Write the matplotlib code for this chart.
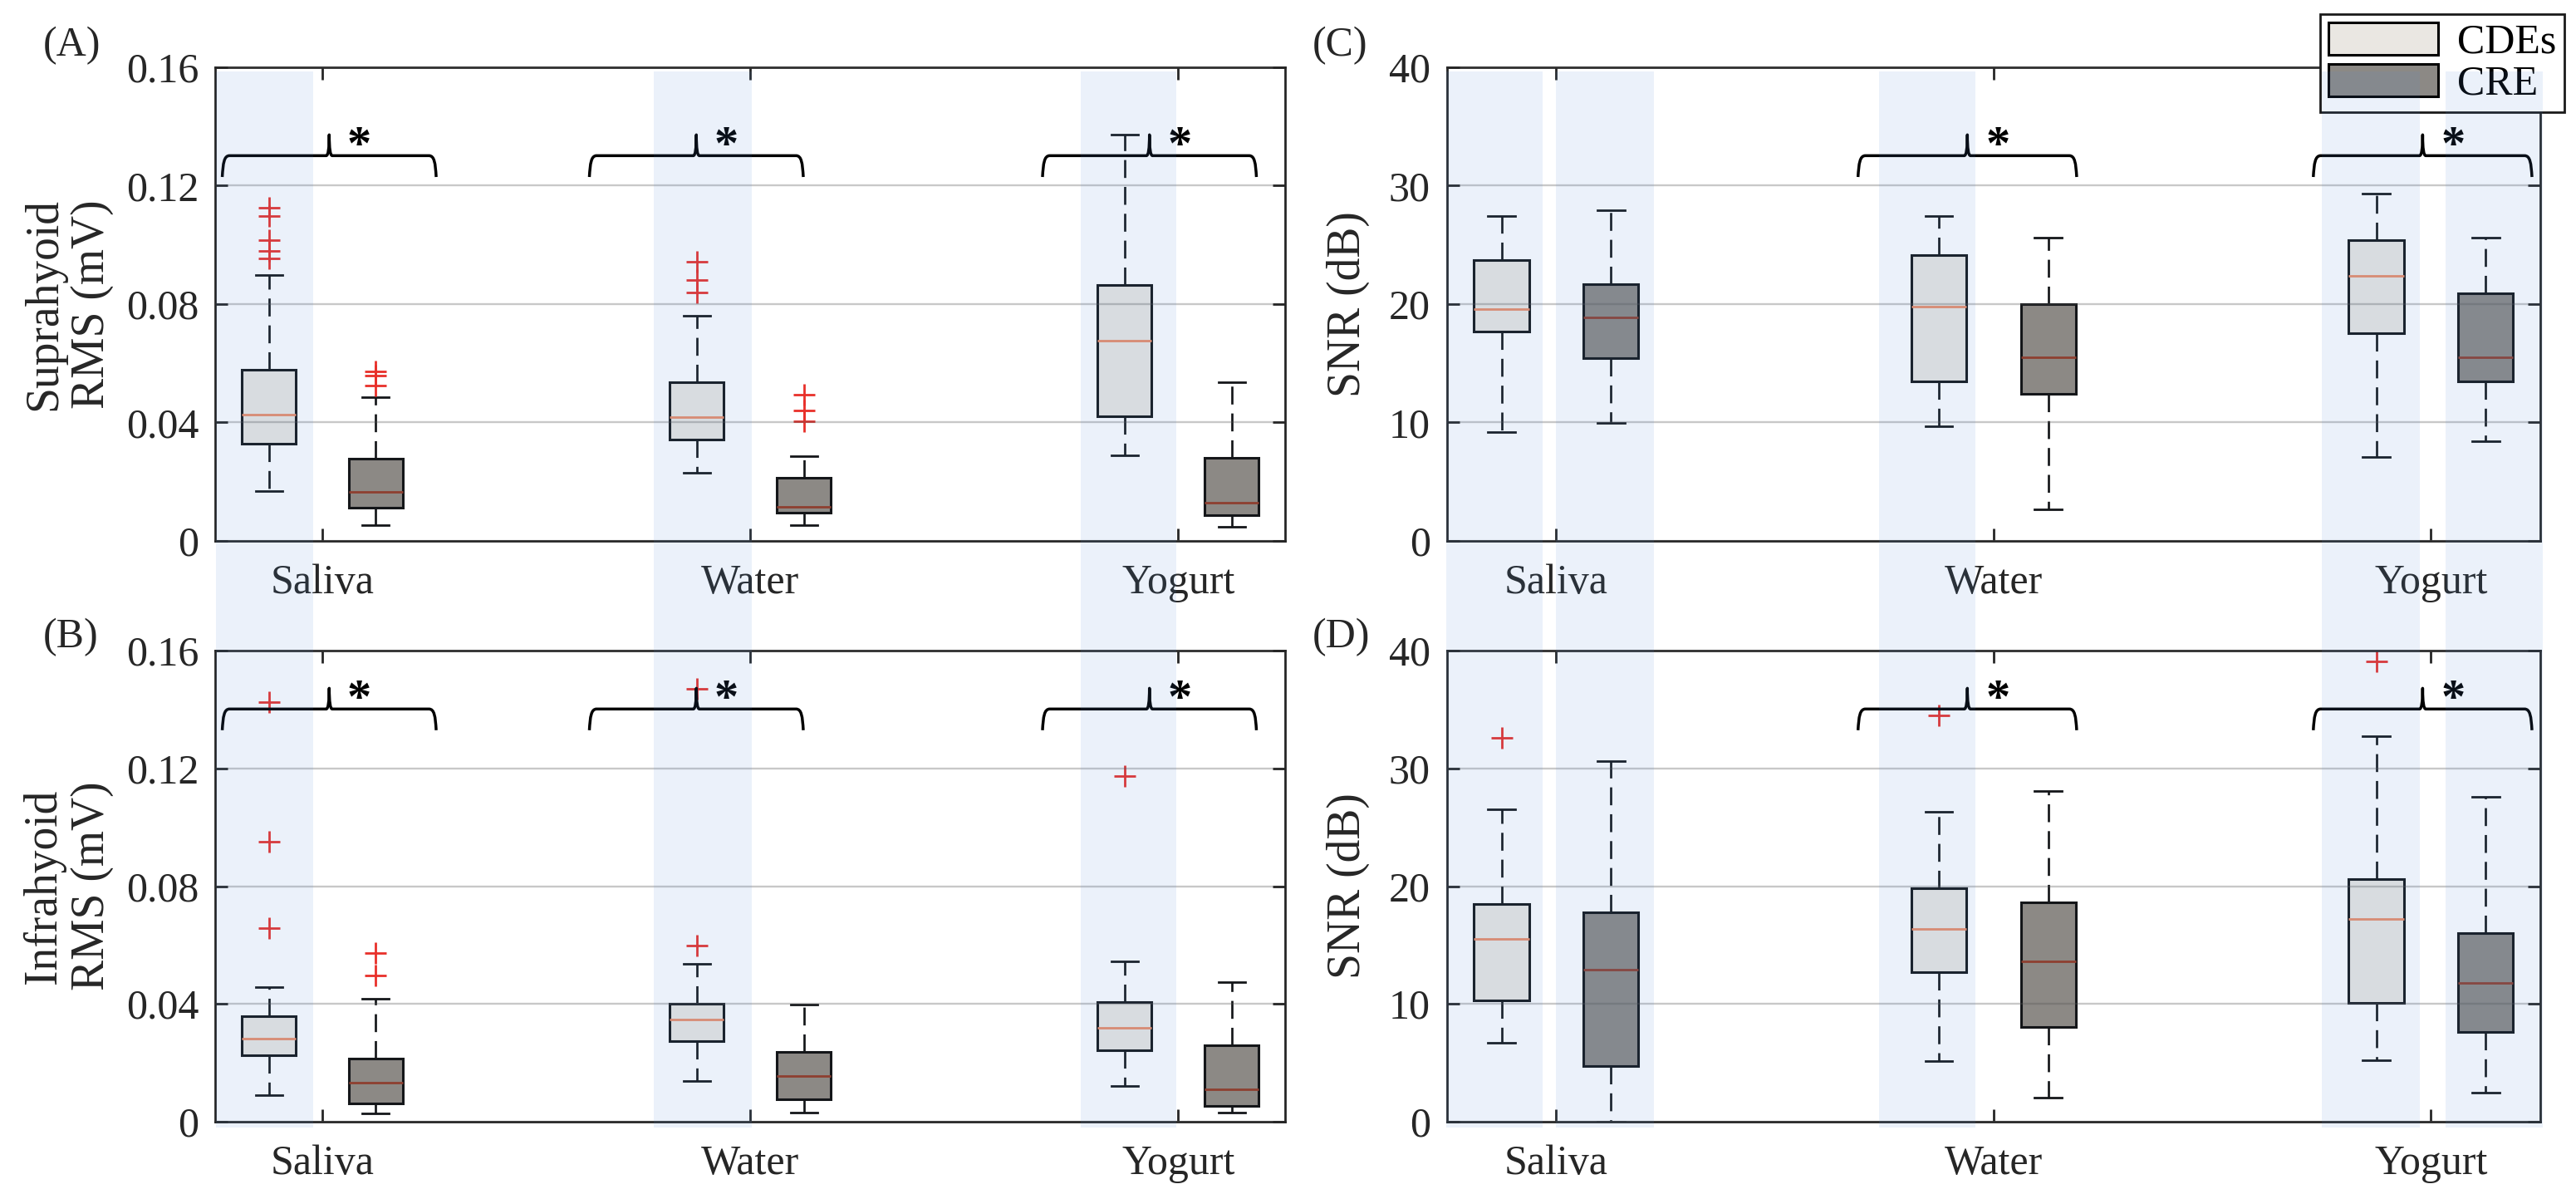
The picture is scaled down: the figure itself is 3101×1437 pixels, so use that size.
import matplotlib
matplotlib.use("Agg")
import matplotlib.pyplot as plt
import matplotlib.transforms as mtransforms
from matplotlib.patches import Rectangle, Patch, PathPatch
from matplotlib.path import Path

plt.rcParams['font.family'] = ['Liberation Serif', 'DejaVu Serif']

# ---------------- data ----------------
groups = ['Saliva', 'Water', 'Yogurt']
methods = ['CDEs', 'CRE']

# box statistics per group: [lower whisker, Q1, median, Q3, upper whisker]
supra_rms_cdes = [[0.0168, 0.0329, 0.0426, 0.0578, 0.0899],
                  [0.0231, 0.0341, 0.0418, 0.0537, 0.0760],
                  [0.0288, 0.0421, 0.0676, 0.0865, 0.1373]]
supra_rms_cre = [[0.0052, 0.0112, 0.0165, 0.0277, 0.0484],
                 [0.0052, 0.0095, 0.0116, 0.0213, 0.0285],
                 [0.0049, 0.0086, 0.0128, 0.0280, 0.0537]]
supra_rms_cdes_out = [[0.0953, 0.0978, 0.1015, 0.1096, 0.1124], [0.0839, 0.0880, 0.0942], []]
supra_rms_cre_out = [[0.0524, 0.0557, 0.0571], [0.0403, 0.0440, 0.0493], []]

infra_rms_cdes = [[0.0090, 0.0225, 0.0281, 0.0359, 0.0458],
                  [0.0138, 0.0274, 0.0347, 0.0400, 0.0535],
                  [0.0121, 0.0243, 0.0319, 0.0406, 0.0545]]
infra_rms_cre = [[0.0027, 0.0061, 0.0132, 0.0215, 0.0418],
                 [0.0031, 0.0075, 0.0155, 0.0237, 0.0397],
                 [0.0031, 0.0053, 0.0110, 0.0259, 0.0475]]
infra_rms_cdes_out = [[0.0658, 0.0950, 0.1426], [0.0597, 0.1470], [0.1175]]
infra_rms_cre_out = [[0.0497, 0.0574], [], []]

supra_snr_cdes = [[9.16, 17.7, 19.6, 23.7, 27.4],
                  [9.68, 13.5, 19.8, 24.1, 27.4],
                  [7.10, 17.5, 22.4, 25.4, 29.3]]
supra_snr_cre = [[9.94, 15.4, 18.9, 21.7, 27.9],
                 [2.65, 12.4, 15.5, 20.0, 25.6],
                 [8.39, 13.5, 15.5, 20.9, 25.6]]
supra_snr_cdes_out = [[], [], []]
supra_snr_cre_out = [[], [], []]

infra_snr_cdes = [[6.71, 10.32, 15.5, 18.5, 26.5],
                  [5.16, 12.7, 16.35, 19.8, 26.3],
                  [5.23, 10.06, 17.2, 20.6, 32.7]]
infra_snr_cre = [[0.0, 4.71, 12.9, 17.8, 30.6],
                 [2.03, 8.06, 13.6, 18.6, 28.1],
                 [2.45, 7.6, 11.8, 16.0, 27.6]]
infra_snr_cdes_out = [[32.6], [34.5], [39.1]]
infra_snr_cre_out = [[], [], []]

# significance per group (brace + asterisk)
sig_rms = [True, True, True]
sig_snr = [False, True, True]

rms_ticks = [0, 0.04, 0.08, 0.12, 0.16]
rms_ticklabels = ['0', '0.04', '0.08', '0.12', '0.16']
snr_ticks = [0, 10, 20, 30, 40]
snr_ticklabels = ['0', '10', '20', '30', '40']

# ---------------- style / layout ----------------
CDE_FACE = '#EAE7E2'
CRE_FACE = '#8C8985'
CDE_MED = '#E98C68'
CRE_MED = '#8E3F30'
EDGE = '#141619'
AXC = '#262626'
RED = '#E8302A'
SHADE = '#508AD5'
SHADE_ALPHA = 0.115

W, H = 3101, 1437
fig = plt.figure(figsize=(W / 200, H / 200), dpi=200)
fig.patch.set_facecolor('white')

def fx(px):
    return px / W

def fy(py):
    return 1 - py / H

left_L, right_L = 259.3, 1547.0
left_R, right_R = 1741.8, 3058.0
top_T, bot_T = 80.7, 651.0
top_B, bot_B = 783.0, 1350.0

axA = fig.add_axes([fx(left_L), fy(bot_T), fx(right_L - left_L), (bot_T - top_T) / H])
axB = fig.add_axes([fx(left_L), fy(bot_B), fx(right_L - left_L), (bot_B - top_B) / H])
axC = fig.add_axes([fx(left_R), fy(bot_T), fx(right_R - left_R), (bot_T - top_T) / H])
axD = fig.add_axes([fx(left_R), fy(bot_B), fx(right_R - left_R), (bot_B - top_B) / H])

BOX_W = 0.126
CAP_W = 0.062
OFF = 0.125
HW_BRACE = 0.25
tips_LR = {'L': [1.016, 1.874, 2.933], 'R': [1.016, 1.940, 2.981]}
brace_y = {'top': (0.768, 0.813, 0.857, 0.806), 'bot': (0.831, 0.876, 0.920, 0.869)}
shade_spans = {'L': [(0.752, 0.979), (1.774, 2.003), (2.772, 2.996)],
               'R': [(0.749, 0.969), (1.0, 1.224), (1.738, 1.958), (2.75, 2.974), (3.034, 3.256)]}


def make_stats(stats, outs):
    res = []
    for s, o in zip(stats, outs):
        res.append(dict(whislo=s[0], q1=s[1], med=s[2], q3=s[3], whishi=s[4], fliers=o))
    return res


def draw_boxes(ax, stats, outs, positions, face, medc):
    ax.bxp(make_stats(stats, outs), positions=positions, widths=BOX_W,
           capwidths=CAP_W, patch_artist=True, manage_ticks=False, zorder=2,
           boxprops=dict(facecolor=face, edgecolor=EDGE, linewidth=1.1),
           whiskerprops=dict(color=EDGE, linewidth=0.97, linestyle=(0, (8, 4))),
           capprops=dict(color=EDGE, linewidth=1.0),
           medianprops=dict(color=medc, linewidth=1.0, solid_capstyle='butt'),
           flierprops=dict(marker='+', markeredgecolor=RED, markersize=9.4,
                           markeredgewidth=1.0, linestyle='none'))


def draw_brace(ax, xc, yv):
    ye, yb, yt, ys = yv
    tr = mtransforms.blended_transform_factory(ax.transData, ax.transAxes)
    x0, x1 = xc - HW_BRACE, xc + HW_BRACE
    dt = 0.007
    verts = [(x0, ye),
             (x0 + 0.002, yb - 0.016), (x0 + 0.004, yb), (x0 + 0.017, yb),
             (xc - dt, yb),
             (xc, yb), (xc, yt),
             (xc, yb), (xc + dt, yb),
             (x1 - 0.017, yb),
             (x1 - 0.004, yb), (x1 - 0.002, yb - 0.016), (x1, ye)]
    codes = [Path.MOVETO, Path.CURVE4, Path.CURVE4, Path.CURVE4, Path.LINETO,
             Path.CURVE3, Path.CURVE3, Path.CURVE3, Path.CURVE3, Path.LINETO,
             Path.CURVE4, Path.CURVE4, Path.CURVE4]
    ax.add_patch(PathPatch(Path(verts, codes), transform=tr, fill=False,
                           edgecolor='black', linewidth=1.25, clip_on=False,
                           zorder=6, joinstyle='round', capstyle='butt'))
    ax.text(xc + 0.07, ys, '*', transform=tr, ha='center', va='baseline',
            fontsize=21, fontweight='bold', color='black', zorder=7)


def style_axis(ax, ticks, ticklabels, ylim, ylabel, label_x):
    ax.set_facecolor('none')
    ax.set_xlim(0.75, 3.25)
    ax.set_ylim(*ylim)
    ax.set_xticks([1, 2, 3])
    ax.set_xticklabels(groups)
    ax.set_yticks(ticks)
    ax.set_yticklabels(ticklabels)
    ax.set_axisbelow(False)
    ax.yaxis.grid(True, color='#555555', alpha=0.32, linewidth=0.85)
    ax.xaxis.grid(False)
    for sp in ax.spines.values():
        sp.set_color(AXC)
        sp.set_linewidth(1.0)
    ax.tick_params(direction='in', length=5.3, width=1.0, color=AXC,
                   labelcolor=AXC, labelsize=18, top=True, right=True)
    ax.tick_params(axis='x', pad=10.0)
    ax.tick_params(axis='y', pad=7.2)
    ax.set_ylabel(ylabel, fontsize=20, color=AXC, linespacing=1.15)
    ax.yaxis.set_label_coords(label_x, 0.5)


panels = [
    (axA, supra_rms_cdes, supra_rms_cdes_out, supra_rms_cre, supra_rms_cre_out,
     rms_ticks, rms_ticklabels, (0, 0.16), 'Suprahyoid\nRMS (mV)', -0.095, 'L', 'top', sig_rms),
    (axB, infra_rms_cdes, infra_rms_cdes_out, infra_rms_cre, infra_rms_cre_out,
     rms_ticks, rms_ticklabels, (0, 0.16), 'Infrahyoid\nRMS (mV)', -0.095, 'L', 'bot', sig_rms),
    (axC, supra_snr_cdes, supra_snr_cdes_out, supra_snr_cre, supra_snr_cre_out,
     snr_ticks, snr_ticklabels, (0, 40), 'SNR (dB)', -0.0705, 'R', 'top', sig_snr),
    (axD, infra_snr_cdes, infra_snr_cdes_out, infra_snr_cre, infra_snr_cre_out,
     snr_ticks, snr_ticklabels, (0, 40), 'SNR (dB)', -0.0705, 'R', 'bot', sig_snr),
]

centers = [1, 2, 3]
for (ax, cs, co, rs, ro, tk, tl, yl, lab, lx, side, row, sig) in panels:
    style_axis(ax, tk, tl, yl, lab, lx)
    draw_boxes(ax, cs, co, [c - OFF for c in centers], CDE_FACE, CDE_MED)
    draw_boxes(ax, rs, ro, [c + OFF for c in centers], CRE_FACE, CRE_MED)
    for i, s in enumerate(sig):
        if s:
            draw_brace(ax, tips_LR[side][i], brace_y[row])

# panel letters
for txt, px, py in [('(A)', 52, 66.7), ('(B)', 52, 779), ('(C)', 1580, 66.7), ('(D)', 1580, 779)]:
    fig.text(fx(px), fy(py), txt, fontsize=18, ha='left', va='baseline', color=AXC)

# legend
handles = [Patch(facecolor=CDE_FACE, edgecolor='black', linewidth=1.1, label=methods[0]),
           Patch(facecolor=CRE_FACE, edgecolor='black', linewidth=1.1, label=methods[1])]
leg = fig.legend(handles=handles, loc='upper right',
                 bbox_to_anchor=(fx(3087), fy(16.7)), bbox_transform=fig.transFigure,
                 fontsize=18, frameon=True, fancybox=False, framealpha=1,
                 edgecolor='#1A1A1A', borderpad=0.2, borderaxespad=0,
                 handlelength=2.65, handleheight=0.82, handletextpad=0.45,
                 labelspacing=0.05)
leg.get_frame().set_linewidth(1.0)

# translucent column shading drawn across both rows
sh_bot, sh_top = fy(1357), fy(86)
for ax_ref, side in [(axA, 'L'), (axC, 'R')]:
    tr = mtransforms.blended_transform_factory(ax_ref.transData, fig.transFigure)
    for (x0, x1) in shade_spans[side]:
        fig.add_artist(Rectangle((x0, sh_bot), x1 - x0, sh_top - sh_bot, transform=tr,
                                 facecolor=SHADE, alpha=SHADE_ALPHA, edgecolor='none',
                                 zorder=10))

fig.savefig('out.png', dpi=200, facecolor='white')
